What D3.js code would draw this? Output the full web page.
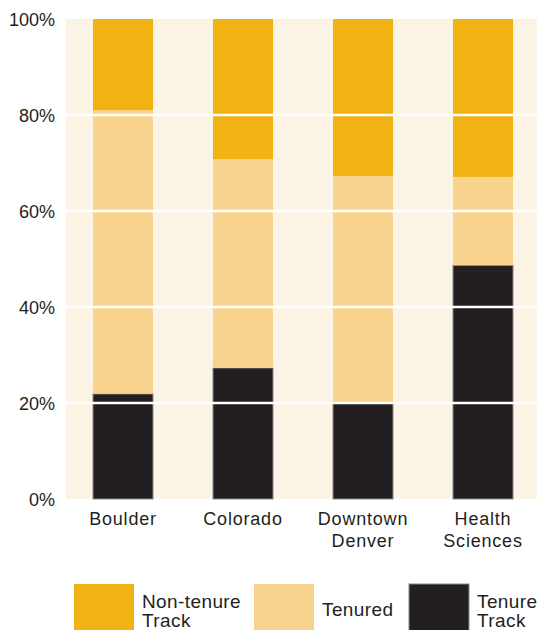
<!DOCTYPE html>
<html>
<head>
<meta charset="utf-8">
<script src="https://cdn.jsdelivr.net/npm/d3@7"></script>
<style>
  html, body { margin: 0; padding: 0; background: #ffffff; }
  svg { display: block; }
  text { font-family: "Liberation Sans", Arial, Helvetica, sans-serif; fill: #231f20; }
</style>
</head>
<body>
<svg id="chart" width="539" height="630"></svg>
<script>
// Campuses along the x axis (label lines)
const campuses = ["Boulder", "Colorado", "Downtown Denver", "Health Sciences"];
const campusLines = [["Boulder"], ["Colorado"], ["Downtown", "Denver"], ["Health", "Sciences"]];

// Share of faculty in each group, percent
const tenureTrack = [21.9, 27.3, 20.0, 48.7];
const tenured     = [59.1, 43.5, 47.3, 18.4];
const nonTenure   = [19.0, 29.2, 32.7, 32.9];

const yTicks = [0, 20, 40, 60, 80, 100];
const seriesKeys = ["tenureTrack", "tenured", "nonTenure"];
const seriesNames = { nonTenure: ["Non-tenure", "Track"], tenured: ["Tenured"], tenureTrack: ["Tenure", "Track"] };
const colors = { nonTenure: "#f0b313", tenured: "#f7d38e", tenureTrack: "#231f20" };

const rows = campuses.map((c, i) => ({
  campus: c, tenureTrack: tenureTrack[i], tenured: tenured[i], nonTenure: nonTenure[i]
}));

const svg = d3.select("#chart");
const plot = { left: 66, right: 537, top: 19, bottom: 499 };

const x = d3.scaleBand().domain(campuses).range([63, 543]).paddingInner(0.5).paddingOuter(0.25);
const y = d3.scaleLinear().domain([0, 100]).range([plot.bottom, plot.top]);

// plot background
svg.append("rect")
  .attr("x", plot.left).attr("y", plot.top)
  .attr("width", plot.right - plot.left).attr("height", plot.bottom - plot.top)
  .attr("fill", "#fbf3e4");

// stacked bars
const stacked = d3.stack().keys(seriesKeys)(rows);
svg.append("g").selectAll("g").data(stacked).join("g")
  .attr("fill", d => colors[d.key])
  .each(function (layer) {
    d3.select(this).selectAll("rect").data(layer).join("rect")
      .attr("x", d => x(d.data.campus))
      .attr("width", x.bandwidth())
      .attr("y", d => y(d[1]))
      .attr("height", d => y(d[0]) - y(d[1]))
      .attr("stroke", layer.key === "tenureTrack" ? "#8a8787" : "none")
      .attr("stroke-width", layer.key === "tenureTrack" ? 1 : 0);
  });

// white gridlines across the bars
svg.append("g").selectAll("line").data(yTicks.filter(t => t > 0 && t < 100)).join("line")
  .attr("x1", plot.left).attr("x2", plot.right)
  .attr("y1", d => y(d)).attr("y2", d => y(d))
  .attr("stroke", "#ffffff").attr("stroke-width", 2.5);

// y axis labels
const yAxis = d3.axisLeft(y).tickValues(yTicks).tickFormat(d => d + "%").tickSize(0).tickPadding(11);
const yg = svg.append("g").attr("transform", `translate(${plot.left},0)`).call(yAxis);
yg.select(".domain").remove();
yg.selectAll("text").attr("font-size", 18).attr("font-family", "Liberation Sans, Arial, sans-serif").attr("fill", "#231f20").attr("dy", "0.36em");

// x axis labels (multi-line)
const xg = svg.append("g");
campuses.forEach((c, i) => {
  const t = xg.append("text")
    .attr("x", x(c) + x.bandwidth() / 2)
    .attr("y", 525)
    .attr("text-anchor", "middle")
    .attr("font-size", 18)
    .attr("letter-spacing", 0.8);
  campusLines[i].forEach((line, j) => {
    t.append("tspan").attr("x", x(c) + x.bandwidth() / 2).attr("dy", j === 0 ? 0 : 22).text(line);
  });
});

// legend
const legendItems = [
  { key: "nonTenure", box: 74, text: 142 },
  { key: "tenured", box: 254, text: 322 },
  { key: "tenureTrack", box: 409, text: 477 }
];
const lg = svg.append("g");
legendItems.forEach(it => {
  lg.append("rect")
    .attr("x", it.box).attr("y", 584).attr("width", 60).attr("height", 50)
    .attr("fill", colors[it.key])
    .attr("stroke", it.key === "tenureTrack" ? "#8a8787" : "none");
  const lines = seriesNames[it.key];
  const t = lg.append("text")
    .attr("font-size", 19).attr("letter-spacing", 0.4)
    .attr("y", lines.length === 1 ? 616 : 608);
  lines.forEach((line, j) => {
    t.append("tspan").attr("x", it.text).attr("dy", j === 0 ? 0 : 19).text(line);
  });
});
</script>
</body>
</html>
